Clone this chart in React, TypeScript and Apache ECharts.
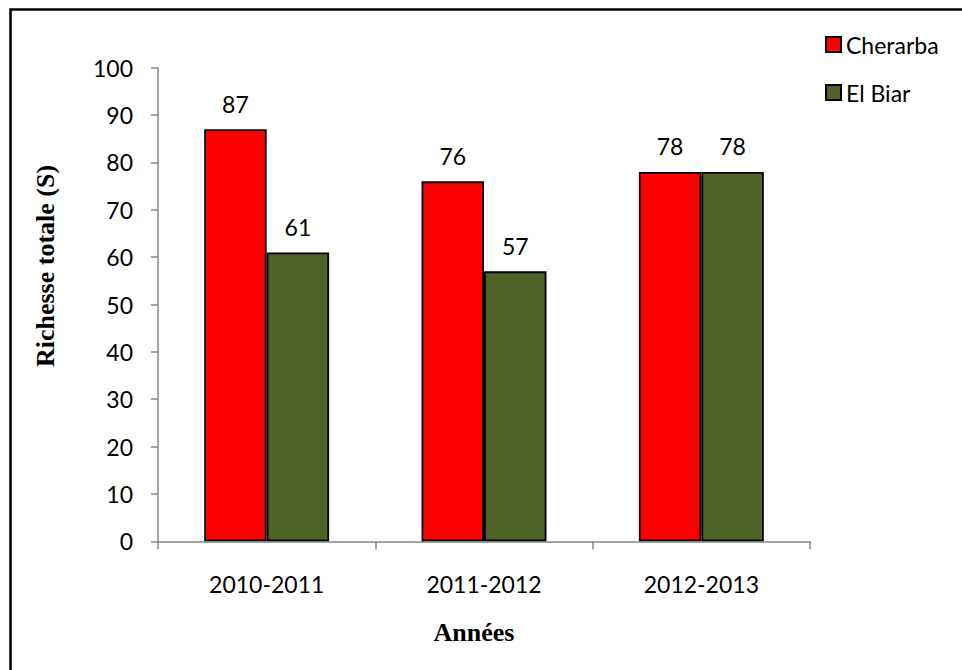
import React, { useEffect, useRef } from "react";
import * as echarts from "echarts";

const categories = ["2010-2011", "2011-2012", "2012-2013"];
const seriesNames = ["Cherarba", "El Biar"];
const cherarbaValues = [87, 76, 78];
const elBiarValues = [61, 57, 78];
const yTicks = { min: 0, max: 100, interval: 10 };
const yTitle = "Richesse totale (S)";
const xTitle = "Années";

const LABEL_FONT = "Lato, 'Open Sans', sans-serif";
const TITLE_FONT = "'Liberation Serif', 'DejaVu Serif', serif";

export default function App() {
  const ref = useRef<HTMLDivElement>(null);
  useEffect(() => {
    const chart = echarts.init(ref.current!, null, { renderer: "svg" });
    const labelStyle = {
      show: true,
      position: "top" as const,
      distance: 14,
      color: "#000",
      fontFamily: LABEL_FONT,
      fontSize: 23,
    };
    chart.setOption({
      animation: false,
      backgroundColor: "#fff",
      grid: { left: 158, top: 67.7, right: 152, bottom: 128.7, containLabel: false },
      legend: {
        orient: "vertical",
        left: 820,
        top: 28,
        itemWidth: 15,
        itemHeight: 15,
        itemGap: 25,
        icon: "rect",
        textStyle: { fontFamily: LABEL_FONT, fontSize: 23, color: "#000" },
        data: seriesNames,
      },
      xAxis: {
        type: "category",
        data: categories,
        axisLine: { lineStyle: { color: "#868686", width: 1.5 } },
        axisTick: { show: true, length: 8, lineStyle: { color: "#868686", width: 1.5 } },
        axisLabel: { color: "#000", fontFamily: LABEL_FONT, fontSize: 23, margin: 31 },
        splitLine: { show: false },
      },
      yAxis: {
        type: "value",
        min: yTicks.min,
        max: yTicks.max,
        interval: yTicks.interval,
        axisLine: { show: true, lineStyle: { color: "#868686", width: 1.5 } },
        axisTick: { show: true, length: 7, lineStyle: { color: "#868686", width: 1.5 } },
        axisLabel: { color: "#000", fontFamily: LABEL_FONT, fontSize: 23, margin: 25 },
        splitLine: { show: false },
      },
      series: [
        {
          name: seriesNames[0],
          type: "bar",
          data: cherarbaValues,
          barGap: "0%",
          barCategoryGap: "42.5%",
          itemStyle: { color: "#FF0000", borderColor: "#000", borderWidth: 1.8 },
          label: labelStyle,
        },
        {
          name: seriesNames[1],
          type: "bar",
          data: elBiarValues,
          barGap: "0%",
          barCategoryGap: "42.5%",
          itemStyle: { color: "#4F6228", borderColor: "#000", borderWidth: 1.8 },
          label: labelStyle,
        },
      ],
      graphic: [
        {
          type: "rect",
          shape: { x: 10.5, y: 9.5, width: 1200, height: 1200 },
          style: { fill: "none", stroke: "#000", lineWidth: 2.5 },
          silent: true,
        },
        {
          type: "text",
          x: 45,
          y: 266,
          rotation: Math.PI / 2,
          style: {
            text: yTitle,
            fontFamily: TITLE_FONT,
            fontWeight: "bold",
            fontSize: 26,
            fill: "#000",
            align: "center",
            verticalAlign: "middle",
          },
        },
        {
          type: "text",
          x: 474,
          y: 632,
          style: {
            text: xTitle,
            fontFamily: TITLE_FONT,
            fontWeight: "bold",
            fontSize: 26,
            fill: "#000",
            align: "center",
            verticalAlign: "middle",
          },
        },
      ],
    });
    return () => chart.dispose();
  }, []);
  return (
    <div
      ref={ref}
      style={{ position: "fixed", left: 0, top: 0, width: 962, height: 670 }}
    />
  );
}
